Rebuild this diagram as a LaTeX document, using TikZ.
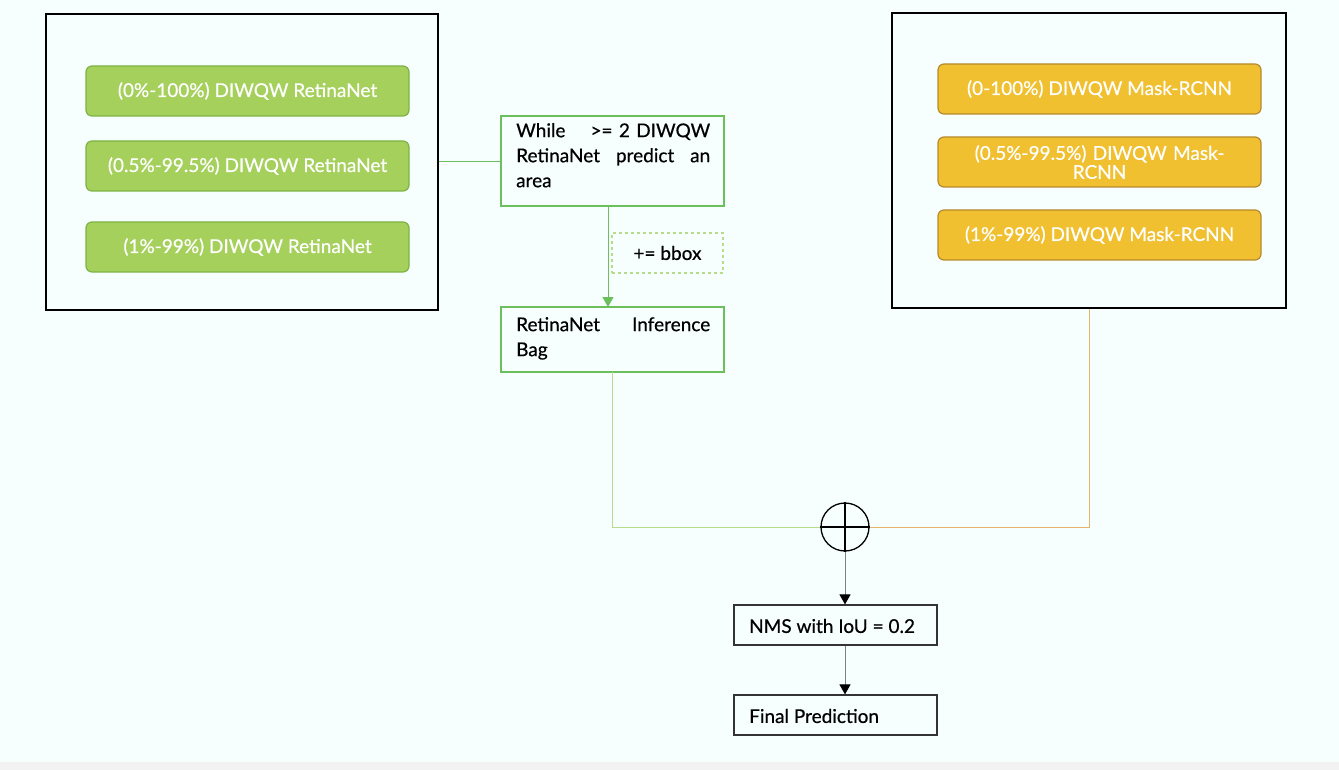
\documentclass[tikz,border=0pt]{standalone}
\usepackage{fontspec}
\setmainfont{Lato}[FakeBold=0.5]
\usetikzlibrary{arrows.meta}
\definecolor{bgc}{HTML}{F7FEFE}
\definecolor{stripc}{HTML}{F2F2F2}
\definecolor{gfill}{HTML}{A6D05C}
\definecolor{gdraw}{HTML}{7DB345}
\definecolor{ofill}{HTML}{F0C030}
\definecolor{odraw}{HTML}{B58A2E}
\definecolor{flowg}{HTML}{6BBF5C}
\definecolor{lightg}{HTML}{B7DA8C}
\definecolor{dashg}{HTML}{B9DC8A}
\definecolor{lineo}{HTML}{E5B36A}
\tikzset{
  x=1pt,y=-1pt,
  bigbox/.style={draw=black,line width=1.8pt},
  gbox/.style={draw=gdraw,fill=gfill,line width=1.2pt,rounded corners=6pt,text=white,font=\fontsize{19}{21}\selectfont},
  obox/.style={draw=odraw,fill=ofill,line width=1.2pt,rounded corners=6pt,text=white,font=\fontsize{19}{19}\selectfont,align=center},
  flowbox/.style={draw=flowg,line width=1.1pt,fill=bgc,inner sep=0pt},
  blkbox/.style={draw=black!80,line width=1.2pt,fill=bgc,inner sep=0pt},
  ftext/.style={font=\fontsize{19}{25}\selectfont,inner sep=0pt},
  arr/.style={-{Triangle[length=10pt,width=11pt]}},
}
\begin{document}
\begin{tikzpicture}
\useasboundingbox (0,0) rectangle (1339,770);
\fill[bgc] (0,0) rectangle (1339,770);
\fill[stripc] (0,762) rectangle (1339,770);
% big boxes
\node[bigbox,minimum width=392pt,minimum height=296pt,inner sep=0pt] (L) at (242,162) {};
\node[bigbox,minimum width=394pt,minimum height=295pt,inner sep=0pt] (R) at (1089,160.5) {};
% green boxes
\node[gbox,minimum width=323pt,minimum height=50pt] (g1) at (247.5,91) {(0\%-100\%) DIWQW RetinaNet};
\node[gbox,minimum width=323pt,minimum height=50pt] (g2) at (247.5,166) {(0.5\%-99.5\%) DIWQW RetinaNet};
\node[gbox,minimum width=323pt,minimum height=50pt] (g3) at (247.5,247) {(1\%-99\%) DIWQW RetinaNet};
% orange boxes
\node[obox,minimum width=323pt,minimum height=50pt] (o1) at (1099.5,89) {(0-100\%) DIWQW Mask-RCNN};
\node[obox,minimum width=323pt,minimum height=50pt,text width=300pt] (o2) at (1099.5,162) {(0.5\%-99.5\%) DIWQW Mask-\\RCNN};
\node[obox,minimum width=323pt,minimum height=50pt] (o3) at (1099.5,235) {(1\%-99\%) DIWQW Mask-RCNN};
% flow boxes
\node[flowbox,minimum width=223pt,minimum height=90pt] (W) at (612.5,161) {};
\node[ftext,text width=194pt,align=left,anchor=north west] (Wt) at (516,123)
  {While\hfill{}>= 2 DIWQW\\RetinaNet\hfill{}predict\hfill{}an\\area};
\node[flowbox,minimum width=223pt,minimum height=65pt] (B) at (612.5,339.5) {};
\node[ftext,text width=194pt,align=left,anchor=north west] (Bt) at (516,317)
  {RetinaNet\hfill{}Inference\\Bag};
\node[draw=dashg,dashed,line width=1.1pt,minimum width=111pt,minimum height=40pt,inner sep=0pt,font=\fontsize{19}{21}\selectfont] (bb) at (667.5,253) {+= bbox};
% circle
\node[draw=black,line width=1.3pt,circle,minimum size=48pt,inner sep=0pt] (C) at (845,527) {};
\draw[line width=1.3pt] (C.north) -- (C.south) (C.west) -- (C.east);
% bottom boxes
\node[blkbox,minimum width=203pt,minimum height=40pt] (N) at (835.5,625) {};
\node[ftext,anchor=west] (Nt) at (749,626) {NMS with IoU = 0.2};
\node[blkbox,minimum width=203pt,minimum height=40pt] (F) at (835.5,715) {};
\node[ftext,anchor=west] (Ft) at (749,716) {Final Prediction};
% connectors
\draw[flowg,line width=0.9pt] (L.east |- W.west) -- (W.west);
\draw[flowg,line width=0.9pt,arr] (608,206) -- (608,307);
\draw[lightg,line width=0.9pt] (612,372) -- (612,527) -- (C.west);
\draw[lineo,line width=0.9pt] (R.south) -- (1089,527) -- (C.east);
\draw[gray,line width=1pt,-{Triangle[length=10pt,width=11pt,fill=black,color=black]}] (C.south) -- (C.south |- N.north);
\draw[gray,line width=1pt,-{Triangle[length=10pt,width=11pt,fill=black,color=black]}] (N.south -| C.south) -- (F.north -| C.south);
\end{tikzpicture}
\end{document}
